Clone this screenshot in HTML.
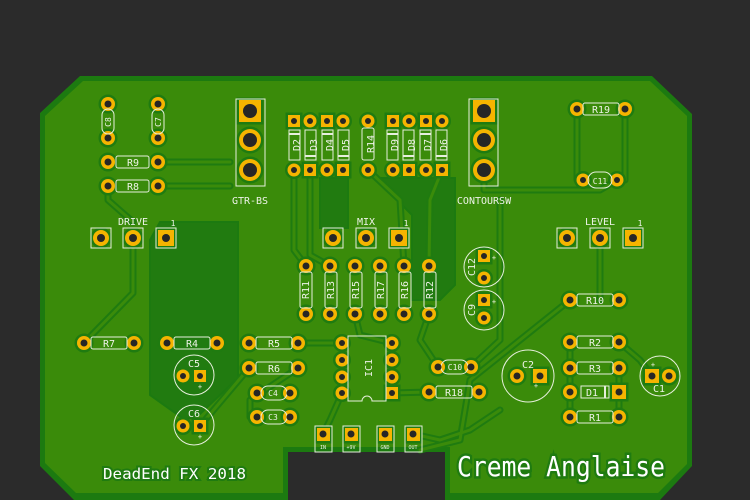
<!DOCTYPE html>
<html><head><meta charset="utf-8"><style>
html,body{margin:0;padding:0;background:#2b2b2b;}
svg{display:block}
text{font-family:"DejaVu Sans Mono","Liberation Mono",monospace;fill:#eef3e8}
</style></head><body>
<svg width="750" height="500" viewBox="0 0 750 500" xmlns="http://www.w3.org/2000/svg">
<rect width="750" height="500" fill="#2b2b2b"/>
<polygon points="80,76 652,76 692,114 692,466 660,500 445,500 445,452 288,452 288,500 74,500 40,466 40,113" fill="#1c7a10"/>
<polygon points="83,81 650,81 687,116 687,464 658,493 450,493 450,447 283,447 283,493 76,493 45,463 45,116" fill="#3a8b0a"/>
<g fill="#217b10" stroke="#1c7a10" stroke-width="2">
<polygon points="150,240 160,222 238,222 238,378 200,414 185,420 150,395"/>
<polygon points="320,178 348,178 348,228 320,228"/>
<polygon points="375,178 455,178 455,285 440,300 412,300 412,215"/>
</g>
<g fill="none" stroke-linejoin="round" stroke-linecap="round">
<g stroke="#1f7b10" stroke-width="7">
<path d="M108,186 L108,200 L133,222 M133,238 L133,293 L84,343"/>
<path d="M158,162 L230,162"/>
<path d="M158,186 L230,186"/>
<path d="M294,170 L294,250 L306,266"/>
<path d="M310,170 L310,255 L330,266"/>
<path d="M368,170 L400,200 L404,266"/>
<path d="M442,170 L430,200 L429,266"/>
<path d="M484,180 L484,190 L600,190 L617,180"/>
<path d="M577,109 L577,180"/>
<path d="M625,109 L625,180"/>
<path d="M600,238 L600,300"/>
<path d="M570,300 L470,380 L460,440 L420,450"/>
<path d="M298,343 L342,343"/>
<path d="M298,368 L250,400 L250,417"/>
<path d="M392,393 L429,392"/>
<path d="M342,393 L330,420 L323,434"/>
<path d="M200,426 L249,368"/>
<path d="M619,342 L640,360 L652,376"/>
<path d="M570,342 L570,417"/>
<path d="M619,368 L619,417"/>
<path d="M355,314 L360,335 L392,343"/>
<path d="M413,434 L440,440 L470,430 L500,410"/>
<path d="M429,314 L420,340 L438,367"/>
<path d="M471,367 L500,340 L500,200"/>
</g>
<g stroke="#3a8b0a" stroke-width="3">
<path d="M108,186 L108,200 L133,222 M133,238 L133,293 L84,343"/>
<path d="M158,162 L230,162"/>
<path d="M158,186 L230,186"/>
<path d="M294,170 L294,250 L306,266"/>
<path d="M310,170 L310,255 L330,266"/>
<path d="M368,170 L400,200 L404,266"/>
<path d="M442,170 L430,200 L429,266"/>
<path d="M484,180 L484,190 L600,190 L617,180"/>
<path d="M577,109 L577,180"/>
<path d="M625,109 L625,180"/>
<path d="M600,238 L600,300"/>
<path d="M570,300 L470,380 L460,440 L420,450"/>
<path d="M298,343 L342,343"/>
<path d="M298,368 L250,400 L250,417"/>
<path d="M392,393 L429,392"/>
<path d="M342,393 L330,420 L323,434"/>
<path d="M200,426 L249,368"/>
<path d="M619,342 L640,360 L652,376"/>
<path d="M570,342 L570,417"/>
<path d="M619,368 L619,417"/>
<path d="M355,314 L360,335 L392,343"/>
<path d="M413,434 L440,440 L470,430 L500,410"/>
<path d="M429,314 L420,340 L438,367"/>
<path d="M471,367 L500,340 L500,200"/>
</g>
</g>
<!-- pads with clearance ring -->
<g fill="#f5b400" stroke="#1f7b10" stroke-width="5" paint-order="stroke">
<circle cx="108" cy="104" r="7"/><circle cx="108" cy="138" r="7"/><circle cx="158" cy="104" r="7"/><circle cx="158" cy="138" r="7"/>
<circle cx="108" cy="162" r="7"/><circle cx="158" cy="162" r="7"/><circle cx="108" cy="186" r="7"/><circle cx="158" cy="186" r="7"/>
<rect x="239" y="100" width="22" height="22"/><circle cx="250" cy="140" r="11"/><circle cx="250" cy="170" r="11"/>
<rect x="473" y="100" width="22" height="22"/><circle cx="484" cy="140" r="11"/><circle cx="484" cy="170" r="11"/>
<circle cx="101" cy="238" r="8"/><circle cx="133" cy="238" r="8"/><rect x="158" y="230" width="16" height="16"/>
<circle cx="333" cy="238" r="8"/><circle cx="366" cy="238" r="8"/><rect x="391" y="230" width="16" height="16"/>
<circle cx="567" cy="238" r="8"/><circle cx="600" cy="238" r="8"/><rect x="625" y="230" width="16" height="16"/>
<rect x="288" y="115" width="12" height="12"/><circle cx="310" cy="121" r="6.5"/><rect x="321" y="115" width="12" height="12"/><circle cx="343" cy="121" r="6.5"/>
<circle cx="294" cy="170" r="6.5"/><rect x="304" y="164" width="12" height="12"/><circle cx="327" cy="170" r="6.5"/><rect x="337" y="164" width="12" height="12"/>
<circle cx="368" cy="121" r="6.5"/><circle cx="368" cy="170" r="6.5"/>
<rect x="387" y="115" width="12" height="12"/><circle cx="409" cy="121" r="6.5"/><rect x="420" y="115" width="12" height="12"/><circle cx="442" cy="121" r="6.5"/>
<circle cx="393" cy="170" r="6.5"/><rect x="403" y="164" width="12" height="12"/><circle cx="426" cy="170" r="6.5"/><rect x="436" y="164" width="12" height="12"/>
<circle cx="577" cy="109" r="7"/><circle cx="625" cy="109" r="7"/><circle cx="583" cy="180" r="6.5"/><circle cx="617" cy="180" r="6.5"/>
<circle cx="306" cy="266" r="7"/><circle cx="330" cy="266" r="7"/><circle cx="355" cy="266" r="7"/><circle cx="380" cy="266" r="7"/><circle cx="404" cy="266" r="7"/><circle cx="429" cy="266" r="7"/>
<circle cx="306" cy="314" r="7"/><circle cx="330" cy="314" r="7"/><circle cx="355" cy="314" r="7"/><circle cx="380" cy="314" r="7"/><circle cx="404" cy="314" r="7"/><circle cx="429" cy="314" r="7"/>
<rect x="478" y="250" width="12" height="12"/><circle cx="484" cy="278" r="6.5"/>
<rect x="478" y="294" width="12" height="12"/><circle cx="484" cy="318" r="6.5"/>
<circle cx="84" cy="343" r="7"/><circle cx="134" cy="343" r="7"/><circle cx="167" cy="343" r="7"/><circle cx="217" cy="343" r="7"/>
<circle cx="249" cy="343" r="7"/><circle cx="298" cy="343" r="7"/><circle cx="249" cy="368" r="7"/><circle cx="298" cy="368" r="7"/>
<circle cx="257" cy="393" r="7"/><circle cx="290" cy="393" r="7"/><circle cx="257" cy="417" r="7"/><circle cx="290" cy="417" r="7"/>
<circle cx="183" cy="376" r="6.5"/><rect x="194" y="370" width="12" height="12"/>
<circle cx="183" cy="426" r="6.5"/><rect x="194" y="420" width="12" height="12"/>
<circle cx="342" cy="343" r="6.5"/><circle cx="342" cy="360" r="6.5"/><circle cx="342" cy="377" r="6.5"/><circle cx="342" cy="393" r="6.5"/>
<circle cx="392" cy="343" r="6.5"/><circle cx="392" cy="360" r="6.5"/><circle cx="392" cy="377" r="6.5"/><rect x="386" y="387" width="12" height="12"/>
<circle cx="438" cy="367" r="7"/><circle cx="471" cy="367" r="7"/><circle cx="429" cy="392" r="7"/><circle cx="479" cy="392" r="7"/>
<rect x="317" y="428" width="13" height="13"/><rect x="345" y="428" width="13" height="13"/><rect x="379" y="428" width="13" height="13"/><rect x="407" y="428" width="13" height="13"/>
<circle cx="517" cy="376" r="7"/><rect x="533" y="369" width="14" height="14"/>
<circle cx="570" cy="300" r="7"/><circle cx="619" cy="300" r="7"/>
<circle cx="570" cy="342" r="7"/><circle cx="619" cy="342" r="7"/>
<circle cx="570" cy="368" r="7"/><circle cx="619" cy="368" r="7"/>
<circle cx="570" cy="392" r="7"/><rect x="612" y="385" width="14" height="14"/>
<circle cx="570" cy="417" r="7"/><circle cx="619" cy="417" r="7"/>
<rect x="645" y="369" width="14" height="14"/><circle cx="669" cy="376" r="7"/>
</g>
<!-- silkscreen outlines -->
<g fill="none" stroke="#e6efdc" stroke-width="1">
<rect x="102" y="109" width="12" height="25" rx="6"/>
<rect x="152" y="109" width="12" height="25" rx="6"/>
<rect x="116" y="156" width="33" height="12" rx="2"/>
<rect x="116" y="180" width="33" height="12" rx="2"/>
<rect x="236" y="99" width="29" height="87"/>
<rect x="91" y="228" width="20" height="20"/><rect x="123" y="228" width="20" height="20"/><rect x="156" y="228" width="20" height="20"/>
<rect x="323" y="228" width="20" height="20"/><rect x="356" y="228" width="20" height="20"/><rect x="389" y="228" width="20" height="20"/>
<rect x="557" y="228" width="20" height="20"/><rect x="590" y="228" width="20" height="20"/><rect x="623" y="228" width="20" height="20"/>
<rect x="289" y="130" width="11" height="30"/><rect x="305" y="130" width="11" height="30"/><rect x="322" y="130" width="11" height="30"/><rect x="338" y="130" width="11" height="30"/>
<rect x="362" y="128" width="12" height="32" rx="2"/>
<rect x="387" y="130" width="11" height="30"/><rect x="403" y="130" width="11" height="30"/><rect x="420" y="130" width="11" height="30"/><rect x="436" y="130" width="11" height="30"/>
<rect x="469" y="99" width="29" height="87"/>
<rect x="583" y="103" width="36" height="12" rx="2"/>
<rect x="588" y="172" width="24" height="16" rx="8"/>
<rect x="300" y="272" width="12" height="36" rx="2"/><rect x="325" y="272" width="12" height="36" rx="2"/><rect x="350" y="272" width="12" height="36" rx="2"/><rect x="375" y="272" width="12" height="36" rx="2"/><rect x="399" y="272" width="12" height="36" rx="2"/><rect x="424" y="272" width="12" height="36" rx="2"/>
<circle cx="484" cy="267" r="20"/><circle cx="484" cy="310" r="20"/>
<rect x="91" y="337" width="36" height="12" rx="2"/>
<rect x="174" y="337" width="36" height="12" rx="2"/>
<rect x="256" y="337" width="36" height="12" rx="2"/>
<rect x="256" y="362" width="36" height="12" rx="2"/>
<rect x="261" y="386" width="26" height="14" rx="7"/>
<rect x="261" y="410" width="26" height="14" rx="7"/>
<circle cx="194" cy="375" r="20"/><circle cx="194" cy="425" r="20"/>
<path d="M348,336 L386,336 L386,401 L372,401 A5,5 0 0 0 362,401 L348,401 Z"/>
<rect x="441" y="360" width="27" height="14" rx="7"/>
<rect x="436" y="386" width="36" height="12" rx="2"/>
<rect x="315" y="426" width="17" height="26"/><rect x="343" y="426" width="17" height="26"/><rect x="377" y="426" width="17" height="26"/><rect x="405" y="426" width="17" height="26"/>
<circle cx="528" cy="376" r="26"/>
<rect x="577" y="294" width="36" height="12" rx="2"/>
<rect x="577" y="336" width="36" height="12" rx="2"/>
<rect x="577" y="362" width="36" height="12" rx="2"/>
<rect x="581" y="386" width="28" height="12"/>
<rect x="577" y="411" width="36" height="12" rx="2"/>
<circle cx="660" cy="376" r="20"/>
</g>
<g fill="#e6efdc">
<rect x="289" y="133" width="11" height="2"/><rect x="305" y="155" width="11" height="2"/><rect x="322" y="133" width="11" height="2"/><rect x="338" y="155" width="11" height="2"/>
<rect x="387" y="133" width="11" height="2"/><rect x="403" y="155" width="11" height="2"/><rect x="420" y="133" width="11" height="2"/><rect x="436" y="155" width="11" height="2"/>
<rect x="604" y="386" width="2" height="12"/>
</g>
<!-- holes -->
<g fill="#262626">
<circle cx="108" cy="104" r="3.5"/><circle cx="108" cy="138" r="3.5"/><circle cx="158" cy="104" r="3.5"/><circle cx="158" cy="138" r="3.5"/>
<circle cx="108" cy="162" r="3.5"/><circle cx="158" cy="162" r="3.5"/><circle cx="108" cy="186" r="3.5"/><circle cx="158" cy="186" r="3.5"/>
<circle cx="250" cy="111" r="7"/><circle cx="250" cy="140" r="7"/><circle cx="250" cy="170" r="7"/>
<circle cx="484" cy="111" r="7"/><circle cx="484" cy="140" r="7"/><circle cx="484" cy="170" r="7"/>
<circle cx="101" cy="238" r="4"/><circle cx="133" cy="238" r="4"/><circle cx="166" cy="238" r="4"/>
<circle cx="333" cy="238" r="4"/><circle cx="366" cy="238" r="4"/><circle cx="399" cy="238" r="4"/>
<circle cx="567" cy="238" r="4"/><circle cx="600" cy="238" r="4"/><circle cx="633" cy="238" r="4"/>
<circle cx="294" cy="121" r="3"/><circle cx="310" cy="121" r="3"/><circle cx="327" cy="121" r="3"/><circle cx="343" cy="121" r="3"/><circle cx="368" cy="121" r="3"/><circle cx="393" cy="121" r="3"/><circle cx="409" cy="121" r="3"/><circle cx="426" cy="121" r="3"/><circle cx="442" cy="121" r="3"/>
<circle cx="294" cy="170" r="3"/><circle cx="310" cy="170" r="3"/><circle cx="327" cy="170" r="3"/><circle cx="343" cy="170" r="3"/><circle cx="368" cy="170" r="3"/><circle cx="393" cy="170" r="3"/><circle cx="409" cy="170" r="3"/><circle cx="426" cy="170" r="3"/><circle cx="442" cy="170" r="3"/>
<circle cx="577" cy="109" r="3.5"/><circle cx="625" cy="109" r="3.5"/><circle cx="583" cy="180" r="3"/><circle cx="617" cy="180" r="3"/>
<circle cx="306" cy="266" r="3.5"/><circle cx="330" cy="266" r="3.5"/><circle cx="355" cy="266" r="3.5"/><circle cx="380" cy="266" r="3.5"/><circle cx="404" cy="266" r="3.5"/><circle cx="429" cy="266" r="3.5"/>
<circle cx="306" cy="314" r="3.5"/><circle cx="330" cy="314" r="3.5"/><circle cx="355" cy="314" r="3.5"/><circle cx="380" cy="314" r="3.5"/><circle cx="404" cy="314" r="3.5"/><circle cx="429" cy="314" r="3.5"/>
<circle cx="484" cy="256" r="3"/><circle cx="484" cy="278" r="3"/><circle cx="484" cy="300" r="3"/><circle cx="484" cy="318" r="3"/>
<circle cx="84" cy="343" r="3.5"/><circle cx="134" cy="343" r="3.5"/><circle cx="167" cy="343" r="3.5"/><circle cx="217" cy="343" r="3.5"/>
<circle cx="249" cy="343" r="3.5"/><circle cx="298" cy="343" r="3.5"/><circle cx="249" cy="368" r="3.5"/><circle cx="298" cy="368" r="3.5"/>
<circle cx="257" cy="393" r="3.5"/><circle cx="290" cy="393" r="3.5"/><circle cx="257" cy="417" r="3.5"/><circle cx="290" cy="417" r="3.5"/>
<circle cx="183" cy="376" r="3"/><circle cx="200" cy="376" r="3"/><circle cx="183" cy="426" r="3"/><circle cx="200" cy="426" r="3"/>
<circle cx="342" cy="343" r="3"/><circle cx="342" cy="360" r="3"/><circle cx="342" cy="377" r="3"/><circle cx="342" cy="393" r="3"/>
<circle cx="392" cy="343" r="3"/><circle cx="392" cy="360" r="3"/><circle cx="392" cy="377" r="3"/><circle cx="392" cy="393" r="3"/>
<circle cx="438" cy="367" r="3.5"/><circle cx="471" cy="367" r="3.5"/><circle cx="429" cy="392" r="3.5"/><circle cx="479" cy="392" r="3.5"/>
<circle cx="323" cy="434" r="3.5"/><circle cx="351" cy="434" r="3.5"/><circle cx="385" cy="434" r="3.5"/><circle cx="413" cy="434" r="3.5"/>
<circle cx="517" cy="376" r="3.5"/><circle cx="540" cy="376" r="3.5"/>
<circle cx="570" cy="300" r="3.5"/><circle cx="619" cy="300" r="3.5"/><circle cx="570" cy="342" r="3.5"/><circle cx="619" cy="342" r="3.5"/>
<circle cx="570" cy="368" r="3.5"/><circle cx="619" cy="368" r="3.5"/><circle cx="570" cy="392" r="3.5"/><circle cx="619" cy="392" r="3.5"/>
<circle cx="570" cy="417" r="3.5"/><circle cx="619" cy="417" r="3.5"/>
<circle cx="652" cy="376" r="3.5"/><circle cx="669" cy="376" r="3.5"/>
</g>
<g font-size="10" text-anchor="middle">
<text x="108" y="125" font-size="8" transform="rotate(-90 108 122)">C8</text>
<text x="158" y="125" font-size="8" transform="rotate(-90 158 122)">C7</text>
<text x="133" y="166">R9</text><text x="133" y="190">R8</text>
<text x="250" y="204">GTR-BS</text>
<text x="133" y="225">DRIVE</text><text x="173" y="226" font-size="8">1</text>
<text x="366" y="225">MIX</text><text x="406" y="226" font-size="8">1</text>
<text x="600" y="225">LEVEL</text><text x="640" y="226" font-size="8">1</text>
<text x="484" y="204">CONTOURSW</text>
<text x="601" y="113">R19</text><text x="600" y="184" font-size="8">C11</text>
<text x="109" y="347">R7</text><text x="192" y="347">R4</text><text x="274" y="347">R5</text><text x="274" y="372">R6</text>
<text x="273" y="396" font-size="8">C4</text><text x="273" y="420" font-size="8">C3</text>
<text x="194" y="367">C5</text><text x="194" y="417">C6</text>
<text x="200" y="389" font-size="7">+</text><text x="200" y="439" font-size="7">+</text>
<text x="455" y="370" font-size="8">C10</text><text x="454" y="396">R18</text>
<text x="528" y="368">C2</text><text x="536" y="388" font-size="7">+</text>
<text x="595" y="304">R10</text><text x="595" y="346">R2</text><text x="595" y="372">R3</text><text x="592" y="396">D1</text><text x="595" y="421">R1</text>
<text x="659" y="392">C1</text><text x="653" y="367" font-size="7">+</text>
<text x="494" y="260" font-size="7">+</text><text x="494" y="304" font-size="7">+</text>
<g font-size="5"><text x="323" y="449">IN</text><text x="351" y="449">+9V</text><text x="385" y="449">GND</text><text x="413" y="449">OUT</text></g>
<text transform="translate(297,145) rotate(-90)" dy="3">D2</text>
<text transform="translate(314,145) rotate(-90)" dy="3">D3</text>
<text transform="translate(330,145) rotate(-90)" dy="3">D4</text>
<text transform="translate(346,145) rotate(-90)" dy="3">D5</text>
<text transform="translate(371,144) rotate(-90)" dy="3">R14</text>
<text transform="translate(395,145) rotate(-90)" dy="3">D9</text>
<text transform="translate(412,145) rotate(-90)" dy="3">D8</text>
<text transform="translate(428,145) rotate(-90)" dy="3">D7</text>
<text transform="translate(444,145) rotate(-90)" dy="3">D6</text>
<text transform="translate(306,290) rotate(-90)" dy="3">R11</text>
<text transform="translate(331,290) rotate(-90)" dy="3">R13</text>
<text transform="translate(356,290) rotate(-90)" dy="3">R15</text>
<text transform="translate(381,290) rotate(-90)" dy="3">R17</text>
<text transform="translate(405,290) rotate(-90)" dy="3">R16</text>
<text transform="translate(430,290) rotate(-90)" dy="3">R12</text>
<text transform="translate(369,368) rotate(-90)" dy="3">IC1</text>
<text transform="translate(472,267) rotate(-90)" dy="3">C12</text>
<text transform="translate(472,310) rotate(-90)" dy="3">C9</text>
</g>
<text x="103" y="479" font-size="15" textLength="143" lengthAdjust="spacingAndGlyphs" font-family="Liberation Sans" stroke="#1f7b10" stroke-width="4" paint-order="stroke" style="fill:#ffffff">DeadEnd FX 2018</text>
<text x="457" y="476" font-size="28" textLength="208" lengthAdjust="spacingAndGlyphs" font-family="Liberation Sans" stroke="#1f7b10" stroke-width="5" paint-order="stroke" style="fill:#ffffff">Creme Anglaise</text>
</svg>
</body></html>
